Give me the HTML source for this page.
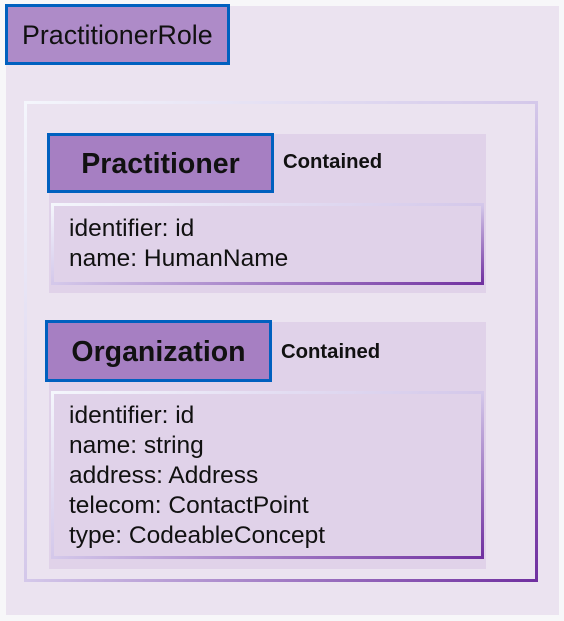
<!DOCTYPE html>
<html><head><meta charset="utf-8"><style>
body{margin:0;width:564px;height:621px;background:#f7f7f9;position:relative;overflow:hidden;font-family:"Liberation Sans",sans-serif;color:#111}
div{position:absolute;box-sizing:border-box}
.g{border:3px solid;border-image:linear-gradient(to bottom right,#f4f6fc 0%,#d4c8ea 50%,#7030a0 100%) 1}
.h{border:3px solid #0060bf;background:#a67fc2;font-weight:bold;font-size:28.5px;text-align:center}
.c{font-weight:bold;font-size:20.3px}
.t{font-size:24.5px;line-height:30px;left:15px;white-space:nowrap}
</style></head><body>
<div style="left:6px;top:6px;width:553px;height:609px;background:#ebe3f0"></div>
<div style="left:5px;top:4px;width:225px;height:61px;border:3px solid #0060bf;background:#ae8bc8;font-size:26.8px;line-height:57px;padding-left:14px;white-space:nowrap">PractitionerRole</div>
<div class="g" style="left:24px;top:101px;width:514px;height:481px"></div>

<div style="left:49px;top:134px;width:437px;height:159px;background:#e0d2e9"></div>
<div class="h" style="left:47px;top:133px;width:227px;height:60px;line-height:57px">Practitioner</div>
<div class="c" style="left:283px;top:151px">Contained</div>
<div class="g" style="left:51px;top:203px;width:433px;height:82px;background:#e0d2e9"><div class="t" style="top:8px">identifier: id<br>name: HumanName</div></div>

<div style="left:49px;top:322px;width:437px;height:247px;background:#e0d2e9"></div>
<div class="h" style="left:45px;top:320px;width:227px;height:62px;line-height:59px">Organization</div>
<div class="c" style="left:281px;top:341px">Contained</div>
<div class="g" style="left:51px;top:391px;width:433px;height:168px;background:#e0d2e9"><div class="t" style="top:7px">identifier: id<br>name: string<br>address: Address<br>telecom: ContactPoint<br>type: CodeableConcept</div></div>
</body></html>
